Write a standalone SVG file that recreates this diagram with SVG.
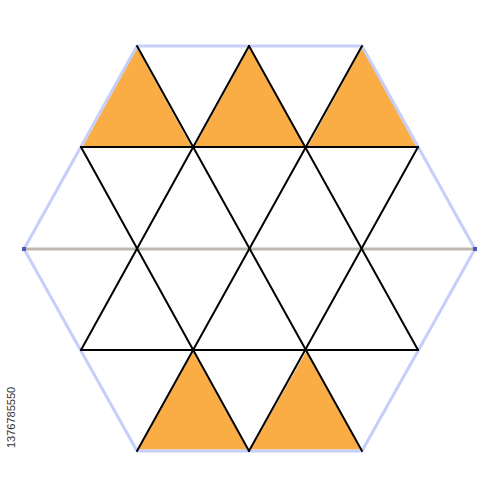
<svg xmlns="http://www.w3.org/2000/svg" width="500" height="500" viewBox="0 0 500 500">
<style>
.tri{fill:#fbad45;stroke:#fff;stroke-width:1}
.hex{fill:none;stroke:#c6cefa;stroke-width:3;stroke-linejoin:round}
.axis{stroke:#bdb7b2;stroke-width:3}
.ln{stroke:#000;stroke-width:2;fill:none;stroke-linecap:round}
.id{font-family:"Liberation Sans",Arial,sans-serif;font-size:11px;fill:#333}
</style>
<rect width="500" height="500" fill="#fff"/>
<g id="fills">
<polygon class="tri" points="137,47 82,147 192,147"/>
<polygon class="tri" points="249,47 194,147 305,147"/>
<polygon class="tri" points="362,47 307,147 417,147"/>
<polygon class="tri" points="193,351 138,450 248,450"/>
<polygon class="tri" points="306,351 250,450 361,450"/>
</g>
<g id="hexagon">
<polygon class="hex" points="137,46 362,46 475,249 362,451 137,451 24,249"/>
</g>
<g id="connectors">
<line class="axis" x1="24" y1="249" x2="475" y2="249"/>
<line class="ln" x1="81" y1="147" x2="418" y2="147"/>
<line class="ln" x1="81" y1="350" x2="418" y2="350"/>
<line class="ln" x1="137" y1="46" x2="362" y2="451"/>
<line class="ln" x1="249" y1="46" x2="418" y2="350"/>
<line class="ln" x1="81" y1="147" x2="249" y2="451"/>
<line class="ln" x1="249" y1="46" x2="81" y2="350"/>
<line class="ln" x1="362" y1="46" x2="137" y2="451"/>
<line class="ln" x1="418" y1="147" x2="249" y2="451"/>
<rect x="22" y="247" width="4" height="4" fill="#4a5ab8"/>
<rect x="473" y="247" width="4" height="4" fill="#4a5ab8"/>
</g>
<text class="id" transform="translate(15,448) rotate(-90)">1376785550</text>
</svg>
